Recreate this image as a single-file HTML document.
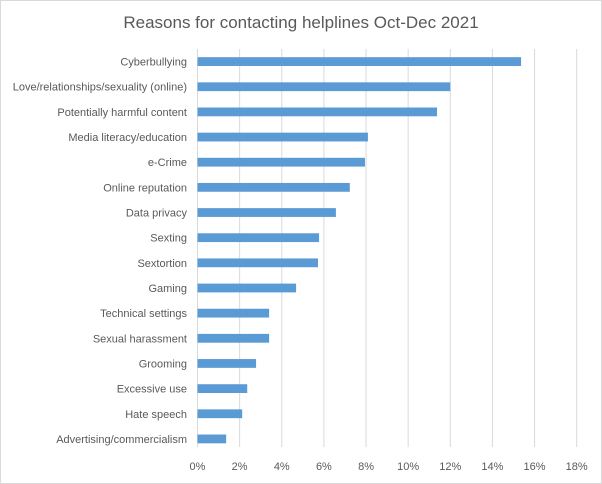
<!DOCTYPE html>
<html><head><meta charset="utf-8"><style>
body{margin:0;background:#fff}
svg{display:block;font-family:"Liberation Sans",sans-serif}
</style></head><body>
<svg id="c" width="602" height="484">
<rect x="0.5" y="0.5" width="601" height="483" fill="#fff" stroke="#d9d9d9"/>
<text x="301" y="28" text-anchor="middle" font-size="17" fill="#595959">Reasons for contacting helplines Oct-Dec 2021</text>
<g id="grid"></g><g id="bars"></g><g id="cats"></g><g id="ticks"></g>
</svg>
<script>
const categories=["Cyberbullying","Love/relationships/sexuality (online)","Potentially harmful content","Media literacy/education","e-Crime","Online reputation","Data privacy","Sexting","Sextortion","Gaming","Technical settings","Sexual harassment","Grooming","Excessive use","Hate speech","Advertising/commercialism"];
const values=[15.36,12.0,11.37,8.09,7.95,7.23,6.57,5.77,5.72,4.68,3.40,3.40,2.78,2.36,2.12,1.36];
const tickValues=[0,2,4,6,8,10,12,14,16,18];
const tickLabels=["0%","2%","4%","6%","8%","10%","12%","14%","16%","18%"];
const NS="http://www.w3.org/2000/svg";
const x0=197.5,x1=576.7,xmax=18,plotTop=49,plotBottom=451.5;
const xs=v=>x0+(x1-x0)*v/xmax;
const band=(plotBottom-plotTop)/categories.length;
const yc=i=>plotTop+band*(i+0.5);
function mk(t,a,p){const e=document.createElementNS(NS,t);for(const k in a)e.setAttribute(k,a[k]);p.appendChild(e);return e;}
const G=document.getElementById('grid'),B=document.getElementById('bars'),C=document.getElementById('cats'),T=document.getElementById('ticks');
tickValues.forEach((v,i)=>{
 const l=mk('line',{x1:xs(v),x2:xs(v),y1:plotTop,y2:447,stroke:'#d9d9d9','stroke-width':1},G);
 
 
 const t=mk('text',{x:xs(v),y:470,'text-anchor':'middle','font-size':11,fill:'#595959'},T);
 t.textContent=tickLabels[i];
 
 
});
categories.forEach((c,i)=>{
 const r=mk('rect',{x:x0,y:yc(i)-4.4,width:xs(values[i])-x0,height:8.8,fill:'#5b9bd5'},B);
 
 
 const t=mk('text',{x:187,y:yc(i)+4,'text-anchor':'end','font-size':11,fill:'#595959'},C);
 t.textContent=c;
 
 
});
</script>
</body></html>
